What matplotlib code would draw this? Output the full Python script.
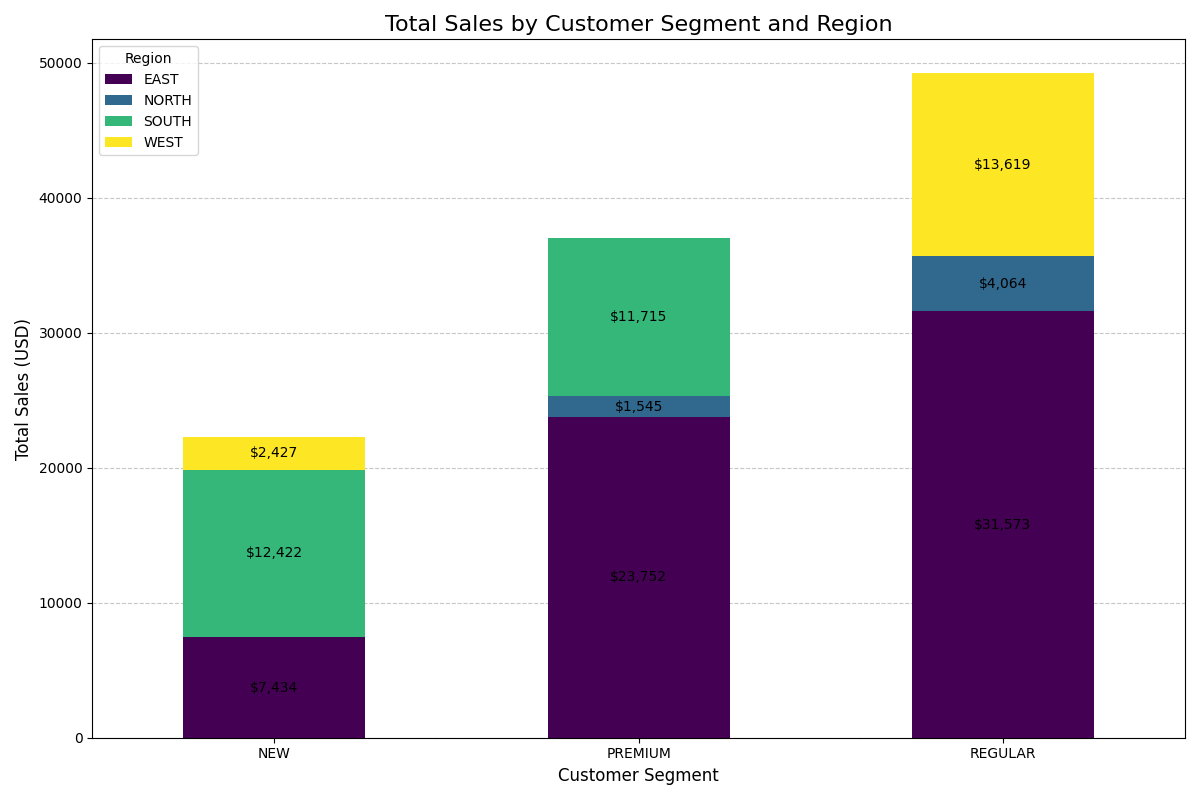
import matplotlib.pyplot as plt
import numpy as np

segments = ['NEW', 'PREMIUM', 'REGULAR']
regions = ['EAST', 'NORTH', 'SOUTH', 'WEST']
east = [7434, 23752, 31573]
north = [0, 1545, 4064]
south = [12422, 11715, 0]
west = [2427, 0, 13619]
colors = ['#440154', '#31688e', '#35b779', '#fde725']

fig, ax = plt.subplots(figsize=(12, 8), dpi=100)
x = np.arange(len(segments))
bottom = np.zeros(len(segments))
for name, vals, c in zip(regions, [east, north, south, west], colors):
    vals = np.array(vals, dtype=float)
    bars = ax.bar(x, vals, 0.5, bottom=bottom, color=c, label=name)
    for b, v, y0 in zip(bars, vals, bottom):
        if v > 0:
            ax.text(b.get_x() + b.get_width() / 2, y0 + v / 2, f'${v:,.0f}',
                    ha='center', va='center', fontsize=10)
    bottom += vals

ax.set_xticks(x)
ax.set_xticklabels(segments)
ax.set_xlim(-0.5, 2.5)
ax.set_title('Total Sales by Customer Segment and Region', fontsize=16)
ax.set_xlabel('Customer Segment', fontsize=12)
ax.set_ylabel('Total Sales (USD)', fontsize=12)
ax.grid(axis='y', linestyle='--', alpha=0.7)
ax.set_axisbelow(True)
ax.legend(title='Region', loc='upper left')
plt.tight_layout()
plt.savefig('out.png')
